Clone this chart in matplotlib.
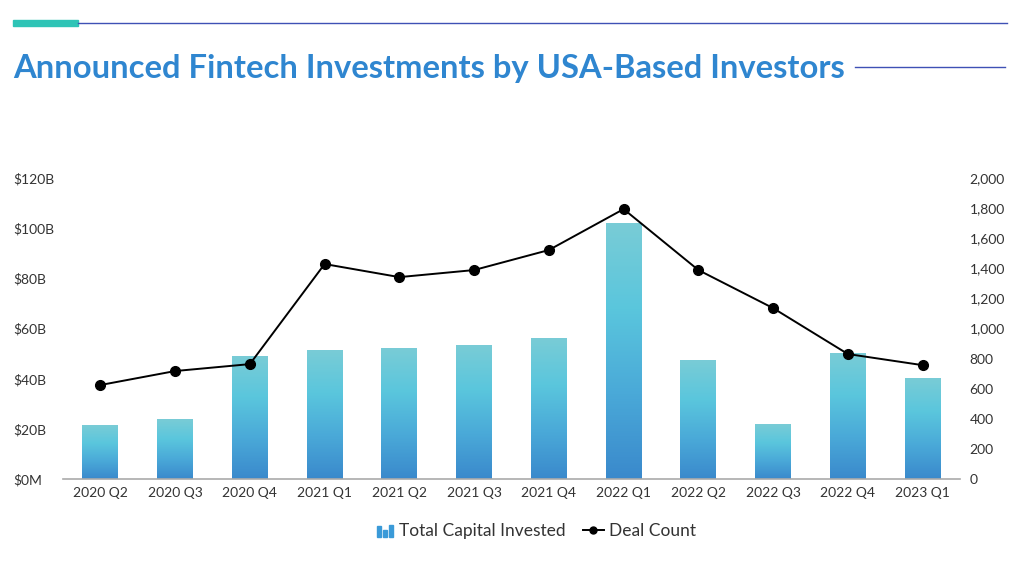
import numpy as np
import matplotlib
matplotlib.use("Agg")
import matplotlib.pyplot as plt
from matplotlib.colors import LinearSegmentedColormap
from matplotlib.patches import Rectangle
from matplotlib.lines import Line2D
from matplotlib.legend_handler import HandlerBase

# ─── Data ────────────────────────────────────────────────────────────────────
quarters = ['2020 Q2', '2020 Q3', '2020 Q4', '2021 Q1', '2021 Q2', '2021 Q3',
            '2021 Q4', '2022 Q1', '2022 Q2', '2022 Q3', '2022 Q4', '2023 Q1']
capital_b = [21.5, 23.9, 49.0, 51.4, 52.2, 53.4, 56.2, 102.0, 47.4, 21.9, 50.2, 40.2]
deal_count = [625, 718, 764, 1429, 1342, 1389, 1522, 1794, 1389, 1136, 831, 757]

left_ticks = [0, 20, 40, 60, 80, 100, 120]
left_labels = ['$0M', '$20B', '$40B', '$60B', '$80B', '$100B', '$120B']
right_ticks = [0, 200, 400, 600, 800, 1000, 1200, 1400, 1600, 1800, 2000]

TITLE = 'Announced Fintech Investments by USA-Based Investors'

plt.rcParams['font.family'] = ['Lato', 'DejaVu Sans']
TXT = '#333333'
grad = LinearSegmentedColormap.from_list(
    'bars', ['#3a89cc', '#4aa9d8', '#5ac6dd', '#79ccd6'])

fig = plt.figure(figsize=(10.24, 5.69), dpi=100)
ax = fig.add_axes([0.0615, 0.158, 0.876, 0.529])
ax2 = ax.twinx()

x = np.arange(len(quarters))
bw = 0.48
grad_img = np.linspace(0, 1, 256).reshape(-1, 1)
for xi, v in zip(x, capital_b):
    ax.imshow(grad_img, cmap=grad, origin='lower', aspect='auto',
              extent=(xi - bw / 2, xi + bw / 2, 0, v), zorder=2)

ax.set_xlim(-0.5, len(quarters) - 0.5)
ax.set_ylim(0, 120)
ax.set_xticks(x)
ax.set_xticklabels(quarters)
ax.set_yticks(left_ticks)
ax.set_yticklabels(left_labels, ha='left')

ax2.plot(x, deal_count, color='black', lw=1.4, marker='o', ms=7, zorder=3)
ax2.set_ylim(0, 2000)
ax2.set_yticks(right_ticks)
ax2.set_yticklabels([f'{t:,}' for t in right_ticks])

for a in (ax, ax2):
    for s in a.spines.values():
        s.set_visible(False)
    a.tick_params(length=0, labelsize=10, colors=TXT)
ax.spines['bottom'].set_visible(True)
ax.spines['bottom'].set_color('#aaaaaa')
ax.spines['bottom'].set_linewidth(1.2)
ax.tick_params(axis='x', pad=6)
ax.tick_params(axis='y', pad=36)
ax2.tick_params(axis='y', pad=7)


# legend icon: small bar chart glyph
class BarIconHandler(HandlerBase):
    def create_artists(self, legend, orig, xd, yd, w, h, fontsize, trans):
        arts = []
        bw_ = 3.0
        x0 = xd + w - 12
        for i, frac in enumerate([0.85, 0.55, 1.0]):
            arts.append(Rectangle((x0 + i * 4.2, yd - 1), bw_, h * frac * 1.05,
                                  color='#3a9ad8', transform=trans))
        return arts


bar_handle = Rectangle((0, 0), 1, 1)
line_handle = Line2D([], [], color='black', marker='o', ms=5, lw=1.4)
fig.legend([bar_handle, line_handle], ['Total Capital Invested', 'Deal Count'],
           handler_map={bar_handle: BarIconHandler()},
           loc='center', bbox_to_anchor=(0.522, 0.067), ncol=2, frameon=False,
           fontsize=12.5, labelcolor=TXT, handlelength=1.2, handletextpad=0.3,
           columnspacing=1.0)

# header decoration
fig.add_artist(Line2D([78 / 1024, 1007 / 1024], [1 - 23 / 569] * 2,
                      color='#3f51b5', lw=1, transform=fig.transFigure))
fig.add_artist(Rectangle((13 / 1024, 1 - 26 / 569), 65 / 1024, 6 / 569,
                         color='#2ec4b6', transform=fig.transFigure))
fig.text(13 / 1024, 1 - 78 / 569, TITLE, fontsize=23.6, fontweight='bold',
         color='#2f86d0', va='baseline', ha='left')
fig.add_artist(Line2D([855 / 1024, 1005 / 1024], [1 - 67 / 569] * 2,
                      color='#3f51b5', lw=1, transform=fig.transFigure))

fig.savefig('out.png', dpi=100)
